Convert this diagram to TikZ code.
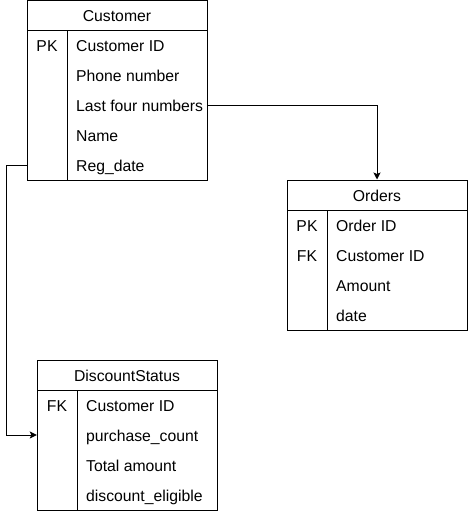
\documentclass[tikz,border=0pt]{standalone}
\usepackage{fontspec}
\setmainfont{Liberation Sans}
\usetikzlibrary{arrows.meta}
\begin{document}
\begin{tikzpicture}[x=1pt,y=-1pt]
	\tikzstyle{every node}+=[inner sep=0pt, font=\fontsize{15.75}{18}\selectfont, text height=13pt, text depth=0pt]
	\tikzstyle{head}=[draw, black, line width=1pt, minimum width=180pt, minimum height=30pt]
	\tikzstyle{row}=[minimum width=180pt, minimum height=30pt]
	\tikzstyle{field}=[anchor=west]
	\tikzstyle{link}=[black, line width=1pt, -{Stealth[length=7pt,width=7pt,inset=1.5pt]}]
	\useasboundingbox (0,0) rectangle (468,511);
	\node [head] (cust) at (117,15.5) {Customer};
	\draw [black, line width=1pt] (27,30.5) rectangle (207,180);
	\draw [black, line width=1pt] (67,30.5) -- (67,180);
	\foreach \t [count=\i] in {Customer ID, Phone number, Last four numbers, Name, Reg\_date} {
		\node [row] (cust-\i) at (117,15+30*\i) {};
		\node [field] at (76,15+30*\i) {\t};
	}
	\node at (47,45) {PK};
	\node [head] (ord) at (377,195) {Orders};
	\draw [black, line width=1pt] (287,210) rectangle (467,330);
	\draw [black, line width=1pt] (327,210) -- (327,330);
	\foreach \t [count=\i] in {Order ID, Customer ID, Amount, date} {
		\node [row] (ord-\i) at (377,195+30*\i) {};
		\node [field] at (336,195+30*\i) {\t};
	}
	\node at (307,225) {PK};
	\node at (307,255) {FK};
	\node [head] (disc) at (127,375) {DiscountStatus};
	\draw [black, line width=1pt] (37,390) rectangle (217,510);
	\draw [black, line width=1pt] (77,390) -- (77,510);
	\foreach \t [count=\i] in {Customer ID, purchase\_count, Total amount, discount\_eligible} {
		\node [row] (disc-\i) at (127,375+30*\i) {};
		\node [field] at (86,375+30*\i) {\t};
	}
	\node at (57,405) {FK};
	\draw [link] (cust-3.east) -| (ord.north);
	\draw [link] (cust-5.west) -- ++(-20,0) |- (disc-2.west);
\end{tikzpicture}
\end{document}
